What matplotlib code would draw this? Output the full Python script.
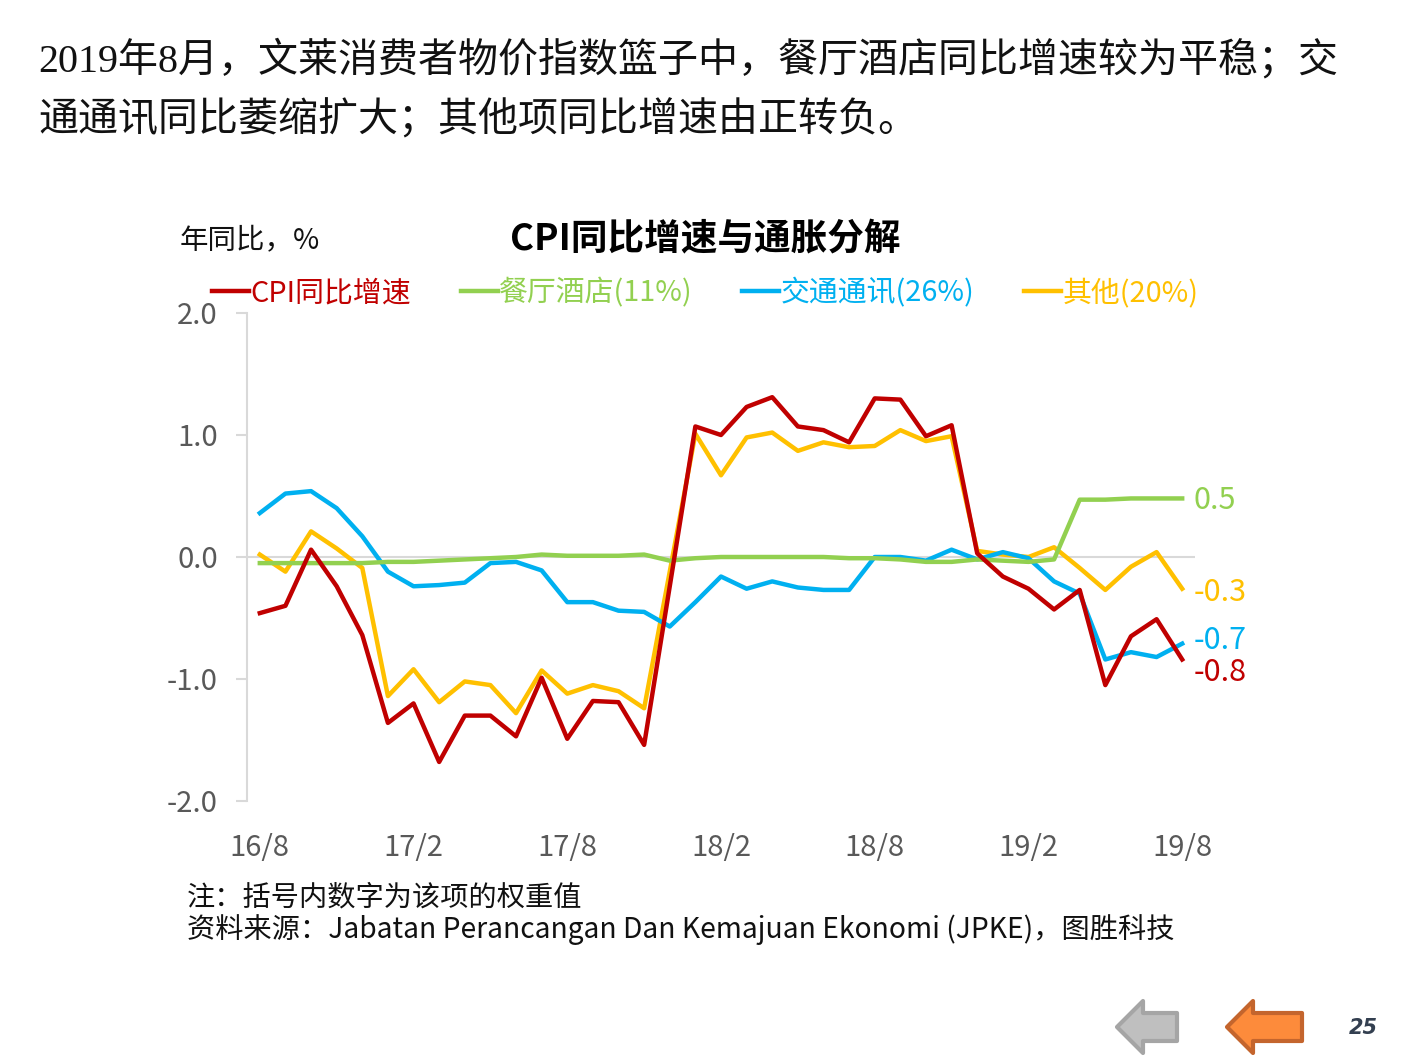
import matplotlib
matplotlib.use("Agg")
import matplotlib.pyplot as plt
import matplotlib.patches as mpatches
import numpy as np

plt.rcParams['font.family'] = ['Noto Sans CJK SC', 'DejaVu Sans']

# monthly data 2016/8 - 2019/8
cpi = [-0.46, -0.40, 0.06, -0.24, -0.64, -1.36, -1.20, -1.68, -1.30, -1.30, -1.47, -0.99,
       -1.49, -1.18, -1.19, -1.54, -0.24, 1.07, 1.00, 1.23, 1.31, 1.07, 1.04, 0.94,
       1.30, 1.29, 0.99, 1.08, 0.03, -0.16, -0.26, -0.43, -0.27, -1.05, -0.65, -0.51, -0.84]
hotel = [-0.05, -0.05, -0.05, -0.05, -0.05, -0.04, -0.04, -0.03, -0.02, -0.01, 0.00, 0.02,
         0.01, 0.01, 0.01, 0.02, -0.03, -0.01, 0.00, 0.00, 0.00, 0.00, 0.00, -0.01,
         -0.01, -0.02, -0.04, -0.04, -0.02, -0.03, -0.04, -0.02, 0.47, 0.47, 0.48, 0.48, 0.48]
transport = [0.36, 0.52, 0.54, 0.40, 0.17, -0.12, -0.24, -0.23, -0.21, -0.05, -0.04, -0.11,
             -0.37, -0.37, -0.44, -0.45, -0.57, -0.37, -0.16, -0.26, -0.20, -0.25, -0.27, -0.27,
             0.00, 0.00, -0.03, 0.06, -0.02, 0.04, -0.01, -0.20, -0.30, -0.84, -0.78, -0.82, -0.71]
other = [0.02, -0.12, 0.21, 0.07, -0.09, -1.14, -0.92, -1.19, -1.02, -1.05, -1.28, -0.93,
         -1.12, -1.05, -1.10, -1.24, -0.12, 1.01, 0.67, 0.98, 1.02, 0.87, 0.94, 0.90,
         0.91, 1.04, 0.95, 0.99, 0.05, 0.02, 0.00, 0.08, -0.09, -0.27, -0.08, 0.04, -0.26]

names = ['CPI同比增速', '餐厅酒店(11%)', '交通通讯(26%)', '其他(20%)']
colors = ['#c00000', '#92d050', '#00b0f0', '#ffc000']
end_labels = ['-0.8', '0.5', '-0.7', '-0.3']
end_offsets = [-13, -2, 3, -4]  # pixel nudges for end labels

x_labels = ['16/8', '17/2', '17/8', '18/2', '18/8', '19/2', '19/8']
y_ticks = [-2.0, -1.0, 0.0, 1.0, 2.0]

W, H = 1411, 1058
fig = plt.figure(figsize=(W / 100, H / 100), dpi=100)

# headline paragraph
para = ['2019年8月，文莱消费者物价指数篮子中，餐厅酒店同比增速较为平稳；交',
        '通通讯同比萎缩扩大；其他项同比增速由正转负。']
for i, line in enumerate(para):
    fig.text(38 / W, 1 - (60 + 60 * i) / H, line, fontsize=28.8, va='center', ha='left',
             family=['Liberation Serif', 'Noto Sans CJK SC'], color='#111111')

ax = fig.add_axes([247 / W, 1 - 801 / H, (1195 - 247) / W, (801 - 313) / H])
x = np.arange(len(cpi))
series = [cpi, hotel, transport, other]
# draw CPI on top
order = [3, 2, 1, 0]
for i in order:
    ax.plot(x, series[i], color=colors[i], lw=3.2, label=names[i], zorder=3 + (i == 0))

ax.axhline(0, color='#d9d9d9', lw=1.5, zorder=1)
ax.set_xlim(-0.5, len(cpi) - 0.5)
ax.set_ylim(-2, 2)
ax.set_yticks(y_ticks)
ax.set_yticklabels(['%.1f' % v for v in y_ticks])
ax.set_xticks(range(0, len(cpi), 6))
ax.set_xticklabels(x_labels)
for s in ['top', 'right', 'bottom']:
    ax.spines[s].set_visible(False)
ax.spines['left'].set_color('#d9d9d9')
ax.spines['left'].set_linewidth(1.5)
ax.tick_params(axis='y', length=8, width=1.5, color='#d9d9d9', labelsize=21,
               labelcolor='#595959', pad=13)
ax.tick_params(axis='x', length=0, labelsize=21, labelcolor='#595959', pad=23)

for i in range(4):
    ax.annotate(end_labels[i], xy=(x[-1], series[i][-1]), xytext=(8, end_offsets[i] * 0.72),
                textcoords='offset points', color=colors[i], fontsize=22, va='center', ha='left')

# legend
handles = [ax.lines[order.index(i)] for i in range(4)]
leg = fig.legend(handles, names, loc='center left', bbox_to_anchor=(212 / W, 1 - 293 / H),
                 ncol=4, frameon=False, fontsize=20.8, handlelength=1.28, handletextpad=0.05,
                 columnspacing=1.72, borderpad=0, borderaxespad=0)
for t, c in zip(leg.get_texts(), colors):
    t.set_color(c)

fig.text(180 / W, 1 - 240 / H, '年同比，%', fontsize=20.5, va='center', ha='left', color='#111111')
fig.text(705 / W, 1 - 240 / H, 'CPI同比增速与通胀分解', fontsize=26.4, fontweight='bold',
         va='center', ha='center', color='black')

fig.text(187 / W, 1 - 897 / H, '注：括号内数字为该项的权重值', fontsize=20.3, va='center', ha='left',
         color='#111111')
fig.text(187 / W, 1 - 930 / H, '资料来源：Jabatan Perancangan Dan Kemajuan Ekonomi (JPKE)，图胜科技',
         fontsize=20.3, va='center', ha='left', color='#111111')

# navigation arrows
def arrow(tip, head_back, body_end, yc, face, edge):
    pts = [(tip, yc), (head_back, yc - 26), (head_back, yc - 14), (body_end, yc - 14),
           (body_end, yc + 14), (head_back, yc + 14), (head_back, yc + 26)]
    pts = [(px / W, 1 - py / H) for px, py in pts]
    fig.patches.append(mpatches.Polygon(pts, closed=True, facecolor=face, edgecolor=edge,
                                        lw=3, transform=fig.transFigure, joinstyle='round'))

arrow(1117, 1143, 1177, 1027, '#bfbfbf', '#a5a5a5')
arrow(1227, 1253, 1302, 1027, '#fd8b3b', '#c4652d')
fig.text(1363 / W, 1 - 1028 / H, '25', fontsize=15, fontweight='bold', style='italic',
         va='center', ha='center', color='#333f50', family='DejaVu Sans')

fig.savefig('out.png', dpi=100)
